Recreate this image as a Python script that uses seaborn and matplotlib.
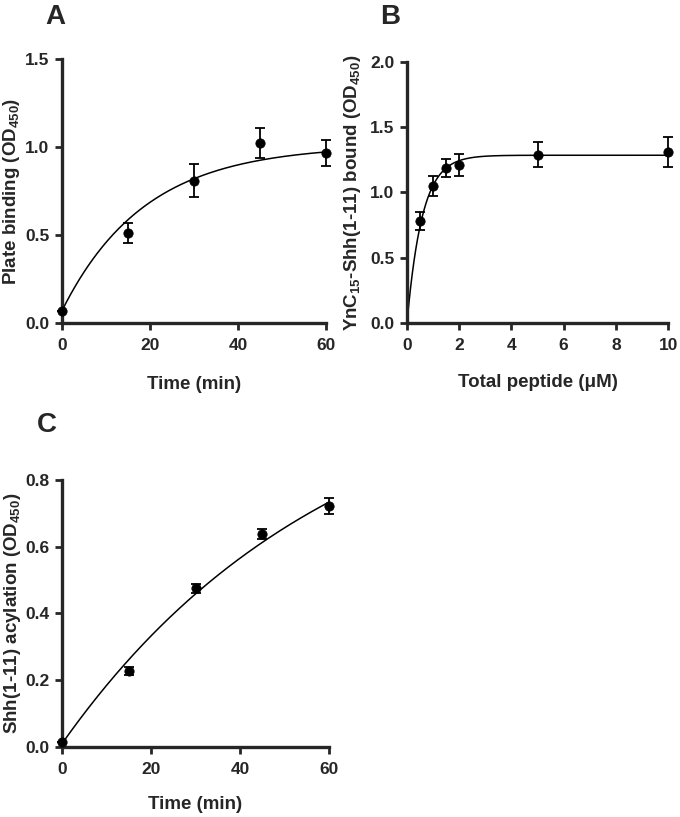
import numpy as np
import pandas as pd
import matplotlib
matplotlib.use("Agg")
import matplotlib.pyplot as plt
import seaborn as sns

sns.set_style("ticks")
plt.rcParams['font.family'] = ['Liberation Sans', 'DejaVu Sans']
plt.rcParams['mathtext.default'] = 'regular'

# panel A: plate binding over time
time_a = [0, 15, 30, 45, 60]
bind_a = [0.066, 0.511, 0.809, 1.023, 0.966]
err_a = [0.0, 0.057, 0.093, 0.085, 0.076]
fit_a = dict(y0=0.07, plateau=1.011, k=0.0531)

# panel B: bound vs total peptide
pep_b = [0.5, 1, 1.5, 2, 5, 10]
bound_b = [0.779, 1.047, 1.188, 1.213, 1.290, 1.310]
err_b = [0.069, 0.077, 0.071, 0.085, 0.094, 0.115]
fit_b = dict(y0=0.0, plateau=1.285, k=1.716)

# panel C: acylation over time
time_c = [0, 15, 30, 45, 60]
acyl_c = [0.015, 0.228, 0.475, 0.638, 0.722]
err_c = [0.0, 0.013, 0.013, 0.014, 0.025]
fit_c = dict(y0=0.01, plateau=1.17, k=0.0163)


def one_phase(x, y0, plateau, k):
    return y0 + (plateau - y0) * (1 - np.exp(-k * x))


def panel(ax, x, y, err, fit, xmax, ymax, yticks, xticks, xlabel, ylabel,
          ylab_x, xlab_y):
    xs = np.linspace(0, xmax, 300)
    curve = pd.DataFrame({'x': xs, 'y': one_phase(xs, **fit)})
    sns.lineplot(data=curve, x='x', y='y', ax=ax, color='black', lw=1.1)
    ax.errorbar(x, y, yerr=err, fmt='none', ecolor='black', elinewidth=1.3,
                capsize=3.8, capthick=1.3, clip_on=False, zorder=3)
    pts = pd.DataFrame({'x': x, 'y': y})
    sns.scatterplot(data=pts, x='x', y='y', ax=ax, color='black', s=45,
                    edgecolor='black', zorder=4, clip_on=False)
    ax.set_xlim(0, xmax)
    ax.set_ylim(0, ymax)
    ax.set_xticks(xticks)
    ax.set_yticks(yticks)
    ax.set_yticklabels([f"{t:.1f}" for t in yticks])
    sns.despine(ax=ax)
    for s in ['left', 'bottom']:
        ax.spines[s].set_linewidth(2.4)
    ax.tick_params(width=2, length=5, labelsize=12.5, pad=4)
    ax.tick_params(axis='x', pad=6)
    for lab in ax.get_xticklabels() + ax.get_yticklabels():
        lab.set_fontweight('bold')
    ax.set_xlabel(xlabel, fontsize=13.5, fontweight='bold', va='center')
    ax.set_ylabel(ylabel, fontsize=13.5, fontweight='bold', va='center')
    ax.yaxis.set_label_coords(ylab_x, 0.5)
    ax.xaxis.set_label_coords(0.5, xlab_y)
    return ax


fig = plt.figure(figsize=(6.8, 8.17), dpi=100)
ax_a = fig.add_axes([0.0912, 0.6047, 0.388, 0.323])
ax_b = fig.add_axes([0.5985, 0.6047, 0.384, 0.3195])
ax_c = fig.add_axes([0.0912, 0.0857, 0.3926, 0.3268])

panel(ax_a, time_a, bind_a, err_a, fit_a, 60, 1.5, [0, 0.5, 1.0, 1.5],
      [0, 20, 40, 60], "Time (min)", "Plate binding (OD$_{450}$)",
      -0.19, -0.235)
panel(ax_b, pep_b, bound_b, err_b, fit_b, 10, 2.0, [0, 0.5, 1.0, 1.5, 2.0],
      [0, 2, 4, 6, 8, 10], "Total peptide (\u03bcM)",
      "YnC$_{15}$-Shh(1-11) bound (OD$_{450}$)", -0.21, -0.23)
panel(ax_c, time_c, acyl_c, err_c, fit_c, 60, 0.8, [0, 0.2, 0.4, 0.6, 0.8],
      [0, 20, 40, 60], "Time (min)", "Shh(1-11) acylation (OD$_{450}$)",
      -0.187, -0.217)

fig.text(55 / 680, 1 - 17 / 817, "A", fontsize=20, fontweight='bold', ha='center', va='center')
fig.text(390 / 680, 1 - 17 / 817, "B", fontsize=20, fontweight='bold', ha='center', va='center')
fig.text(47 / 680, 1 - 425 / 817, "C", fontsize=20, fontweight='bold', ha='center', va='center')

fig.savefig("out.png", dpi=100)
